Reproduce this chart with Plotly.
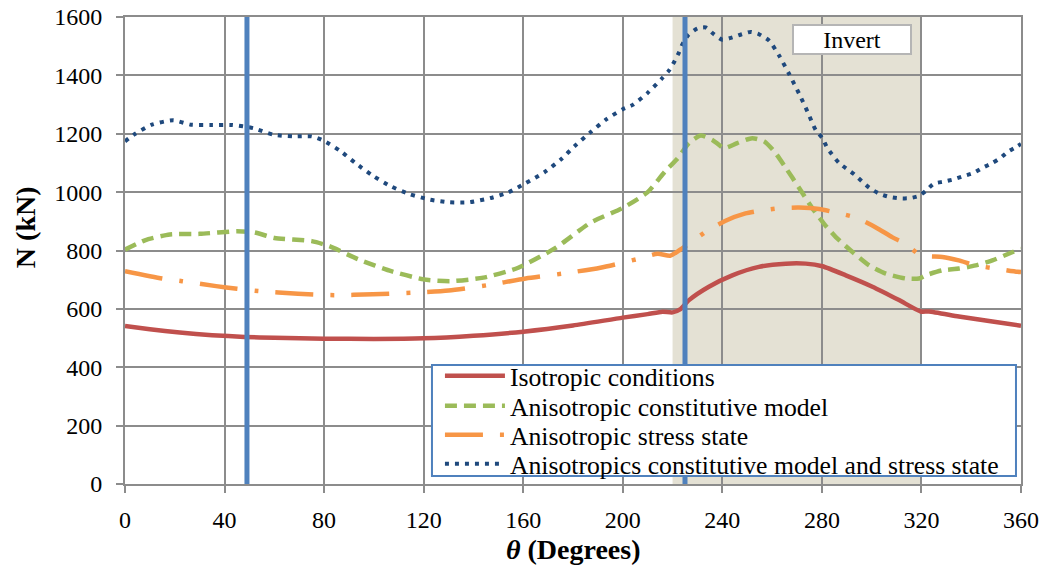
import plotly.graph_objects as go

# ---------------- data ----------------
iso_theta = [0, 10, 22, 35, 48, 60, 80, 100, 120, 140, 160, 180, 200, 210, 216, 220, 223,
             226.6, 234.6, 244, 254.7, 265.5, 273.5, 280.2, 289.6, 300.3, 311, 319.7, 323,
             335, 348.5, 360]
iso_N = [541, 530, 519, 510, 504, 501, 498, 497, 499, 508, 522, 543, 570, 582, 590, 588, 598,
         630, 676, 715, 744, 755, 755, 746, 715, 676, 630, 591, 591, 574, 557, 542]

acm_theta = [0, 8, 18, 30, 45, 52, 60, 75, 82, 94, 107, 120, 131, 144, 158, 173, 187, 200,
             210, 217, 222, 226.6, 231.3, 236, 240.7, 246, 252, 256.8, 260.8, 265.5, 270.8,
             276, 280.9, 285.6, 291.6, 299, 305.7, 313.7, 319, 321.7, 328.4, 335, 341.8,
             348.5, 355, 360]
acm_N = [803, 835, 855, 857, 866, 862, 843, 832, 815, 769, 729, 701, 695, 707, 741, 809, 895,
         946, 1000, 1071, 1115, 1168, 1194, 1179, 1151, 1168, 1185, 1174, 1140, 1083, 1015,
         947, 891, 846, 800, 749, 721, 704, 704, 715, 732, 738, 749, 766, 789, 806]

ass_theta = [0, 15, 23, 36.6, 45, 53.5, 69.5, 84, 99.6, 115, 130, 145.5, 161, 176, 191, 206,
             214, 219, 222.6, 226.6, 234, 241.3, 249.3, 254.7, 262.8, 270.8, 278.9, 285.6,
             293.6, 301.7, 308.4, 313.7, 319.7, 328.4, 335, 341.8, 349.9, 358.6, 360]
ass_N = [729, 704, 695, 678, 669, 661, 652, 647, 650, 655, 663, 681, 704, 721, 741, 771, 789,
         782, 800, 823, 868, 902, 927, 936, 945, 947, 942, 930, 913, 879, 845, 823, 783, 778,
         766, 749, 738, 727, 726]

both_theta = [0, 3.6, 10.8, 19.4, 26.5, 35, 43, 51.6, 59.5, 67.4, 75, 79.6, 86.7, 92.5, 99.6,
              106.8, 114, 122.6, 130.5, 138, 147, 154, 161, 168.5, 175, 180.6, 187, 193.5,
              200, 204, 210, 215.9, 218.6, 220.6, 222.6, 224, 226.3, 230, 233.3, 236.6, 240,
              244, 247.8, 251.4, 254.7, 258.8, 262.8, 267, 270.8, 274.2, 277.5, 280.2, 282.2,
              286.9, 293, 299, 303, 307, 311, 315, 319, 321.7, 325, 329, 333, 337, 341, 344.5,
              348.5, 351.7, 355, 358.5, 360]
both_N = [1174, 1197, 1231, 1246, 1231, 1230, 1230, 1219, 1197, 1191, 1191, 1177, 1140, 1100,
          1056, 1020, 994, 974, 965, 965, 980, 999, 1031, 1068, 1111, 1157, 1205, 1250, 1284,
          1299, 1340, 1391, 1417, 1445, 1479, 1507, 1538, 1561, 1564, 1541, 1522, 1530, 1541,
          1549, 1541, 1519, 1468, 1402, 1338, 1276, 1213, 1185, 1151, 1100, 1061, 1015, 995,
          984, 979, 979, 987, 1004, 1029, 1036, 1044, 1055, 1066, 1083, 1100, 1117, 1140,
          1157, 1165]

series_names = ["Isotropic conditions",
                "Anisotropic constitutive model",
                "Anisotropic stress state",
                "Anisotropics constitutive model and stress state"]

marker_lines = [49, 225]          # vertical reference lines (degrees)
invert_range = [220, 320]         # shaded invert zone (degrees)
invert_label = "Invert"
x_ticks = [0, 40, 80, 120, 160, 200, 240, 280, 320, 360]
y_ticks = [0, 200, 400, 600, 800, 1000, 1200, 1400, 1600]

# ---------------- styling ----------------
FONT = "Liberation Serif"
GRID = "#8c8c8c"
FRAME = dict(x0=0.3426, x1=0.9944, y0=0.0171, y1=0.2548)   # fractions of plot area
LEG_X = 0.3515
LEG_ROWS_Y = [0.2313, 0.1670, 0.1049, 0.0428]
legend_ids = ["legend", "legend2", "legend3", "legend4"]
styles = [
    dict(color="#C0504D", width=4.5),
    dict(color="#9BBB59", width=4.5, dash="12px,7px"),
    dict(color="#F79646", width=4.5, dash="38px,17px,4px,17px"),
    dict(color="#1F497D", width=4, dash="4px,6px"),
]
series = [(iso_theta, iso_N), (acm_theta, acm_N), (ass_theta, ass_N), (both_theta, both_N)]

X_SPAN = x_ticks[-1] - x_ticks[0]
Y_SPAN = y_ticks[-1] - y_ticks[0]
fx0 = x_ticks[0] + FRAME["x0"] * X_SPAN
fx1 = x_ticks[0] + FRAME["x1"] * X_SPAN
fy0 = y_ticks[0] + FRAME["y0"] * Y_SPAN
fy1 = y_ticks[0] + FRAME["y1"] * Y_SPAN

fig = go.Figure()

for (xs, ys), name, st, lid in zip(series, series_names, styles, legend_ids):
    fig.add_trace(go.Scatter(x=xs, y=ys, mode="lines", name=name, legend=lid,
                             line=dict(shape="spline", smoothing=0.6, **st)))

# vertical reference lines, drawn over the data lines; hidden behind the legend box
for xv in marker_lines:
    if fx0 <= xv <= fx1:
        lx = [xv, xv, None, xv, xv]
        ly = [y_ticks[0], fy0, None, fy1, y_ticks[-1]]
    else:
        lx = [xv, xv]
        ly = [y_ticks[0], y_ticks[-1]]
    fig.add_trace(go.Scatter(x=lx, y=ly, mode="lines", showlegend=False,
                             hoverinfo="skip", connectgaps=False,
                             line=dict(color="#4F81BD", width=5)))

# shaded invert zone (under the grid)
fig.add_shape(type="rect", xref="x", yref="y",
              x0=invert_range[0], x1=invert_range[1], y0=y_ticks[0], y1=y_ticks[-1],
              fillcolor="rgb(228,225,212)", line=dict(width=0), layer="below")

# legend frame
fig.add_shape(type="rect", xref="x", yref="y", x0=fx0, x1=fx1, y0=fy0, y1=fy1,
              fillcolor="white", opacity=1, line=dict(color="#4F81BD", width=2),
              layer="above")

fig.add_annotation(x=292, y=1523, xref="x", yref="y", text=invert_label, showarrow=False,
                   font=dict(family=FONT, size=24, color="black"),
                   bgcolor="white", bordercolor="#b5b5b5", borderwidth=2,
                   width=116, height=27, borderpad=0)

# axis titles
fig.add_annotation(x=-0.1116, y=0.55, xref="paper", yref="paper", text="<b>N (kN)</b>",
                   textangle=-90, showarrow=False, xanchor="center", yanchor="middle",
                   font=dict(family=FONT, size=28, color="black"))
fig.add_annotation(x=0.5, y=-0.141, xref="paper", yref="paper",
                   text="<b><i>θ</i> (Degrees)</b>", showarrow=False,
                   xanchor="center", yanchor="middle",
                   font=dict(family=FONT, size=28, color="black"))

legend_common = dict(xanchor="left", yanchor="middle", bgcolor="rgba(0,0,0,0)",
                     borderwidth=0, font=dict(family=FONT, size=25.7, color="black"),
                     itemwidth=60, tracegroupgap=0)
layout_legends = {lid: dict(x=LEG_X, y=yy, **legend_common)
                  for lid, yy in zip(legend_ids, LEG_ROWS_Y)}

fig.update_layout(
    width=1048, height=579,
    margin=dict(l=125, r=27, t=17, b=95, autoexpand=False),
    plot_bgcolor="white", paper_bgcolor="white",
    font=dict(family=FONT, color="black"),
    showlegend=True,
    **layout_legends,
)

fig.update_xaxes(range=[0, 360], tickvals=x_ticks, showgrid=True, gridcolor=GRID,
                 gridwidth=2, zeroline=False, showline=True, linecolor=GRID, linewidth=2,
                 mirror=True, ticks="outside", ticklen=7, tickwidth=2, tickcolor=GRID,
                 tickfont=dict(family=FONT, size=24, color="black"),
                 ticklabelstandoff=6, automargin=False)
fig.update_yaxes(range=[0, 1600], tickvals=y_ticks, showgrid=True, gridcolor=GRID,
                 gridwidth=2, zeroline=False, showline=True, linecolor=GRID, linewidth=2,
                 mirror=True, ticks="outside", ticklen=7, tickwidth=2, tickcolor=GRID,
                 tickfont=dict(family=FONT, size=24, color="black"),
                 ticklabelstandoff=9, automargin=False)

fig.write_html("out.html", config={"displayModeBar": False},
               post_script="document.body.style.margin='0';")
